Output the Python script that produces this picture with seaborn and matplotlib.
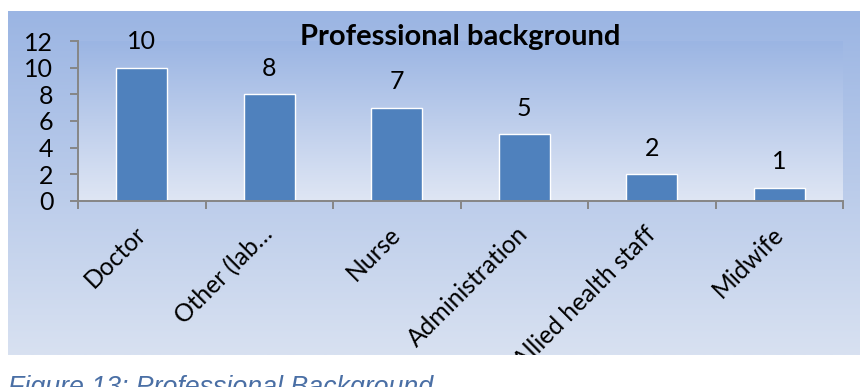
import numpy as np
import pandas as pd
import matplotlib
matplotlib.use("Agg")
import matplotlib.pyplot as plt
from matplotlib.colors import LinearSegmentedColormap
from matplotlib.patches import Rectangle
import seaborn as sns

categories = ["Doctor", "Other (lab…", "Nurse", "Administration", "Allied health staff", "Midwife"]
counts = [10, 8, 7, 5, 2, 1]
y_ticks = [0, 2, 4, 6, 8, 10, 12]
chart_title = "Professional background"
caption = "Figure 13: Professional Background"

sns.set_theme(style="white")
plt.rcParams["font.family"] = ["Lato", "DejaVu Sans"]

W, H = 860, 387
fig = plt.figure(figsize=(W / 100, H / 100), dpi=100)
fig.patch.set_facecolor("white")


def px_box(x0, y0, x1, y1):
    """Pixel box (top-left origin) -> figure-fraction rect."""
    return [x0 / W, 1 - y1 / H, (x1 - x0) / W, (y1 - y0) / H]


grad = np.linspace(0, 1, 256).reshape(-1, 1)

# chart area with vertical gradient fill
bg = fig.add_axes(px_box(8, 11, 860, 355), zorder=-2)
outer_cmap = LinearSegmentedColormap.from_list("outer", ["#9bb5e3", "#d8e1f1"])
bg.imshow(grad, cmap=outer_cmap, aspect="auto", extent=[0, 1, 0, 1])
bg.set_axis_off()

# plot area
ax = fig.add_axes(px_box(78, 41, 843, 201))
ax.set_facecolor("none")
plot_cmap = LinearSegmentedColormap.from_list("plot", ["#9bb5e3", "#dfe6f4"])
ax.imshow(grad, cmap=plot_cmap, aspect="auto", extent=[0, 1, 0, 1],
          transform=ax.transAxes, zorder=0)

df = pd.DataFrame({"role": categories, "count": counts})
sns.barplot(data=df, x="role", y="count", color="#4F81BD", width=0.4,
            saturation=1, ax=ax, zorder=2)

ax.set_xlim(-0.5, len(categories) - 0.5)
ax.set_ylim(0, 12)
ax.set_xlabel("")
ax.set_ylabel("")

for side in ("top", "right"):
    ax.spines[side].set_visible(False)
for side in ("left", "bottom"):
    ax.spines[side].set_color("#868686")
    ax.spines[side].set_linewidth(1.4)
    ax.spines[side].set_zorder(3)

ax.set_yticks(y_ticks)
ax.tick_params(axis="y", direction="out", length=5.8, width=1.4, color="#868686",
               pad=12, labelsize=18, labelcolor="black", left=True)

ax.set_xticks(range(len(categories)))
ax.set_xticklabels(categories, rotation=45, ha="right", va="center",
                   rotation_mode="anchor")
ax.tick_params(axis="x", which="major", length=0, pad=21, labelsize=17.7,
               labelcolor="black")
ax.set_xticks(np.arange(-0.5, len(categories), 1), minor=True)
ax.tick_params(axis="x", which="minor", direction="out", length=5.5, width=1.4,
               color="#868686", bottom=True)

for i, v in enumerate(counts):
    ax.annotate(str(v), (i, v), xytext=(0, 13.5), textcoords="offset points",
                ha="center", va="baseline", fontsize=18, color="black")

fig.text(460.5 / W, 1 - 45 / H, chart_title, ha="center", va="baseline",
         fontsize=21, fontweight="bold", color="black")

# white page below the chart box hides overflowing labels
fig.add_artist(Rectangle((0, 0), 1, (H - 355) / H, transform=fig.transFigure,
                         facecolor="white", edgecolor="none", zorder=5))

fig.text(8 / W, 1 - 395 / H, caption, ha="left", va="baseline",
         fontsize=19.3, fontstyle="italic", family=["Liberation Sans"],
         color="#4a6fa5", zorder=6)

fig.savefig("out.png", dpi=100)
